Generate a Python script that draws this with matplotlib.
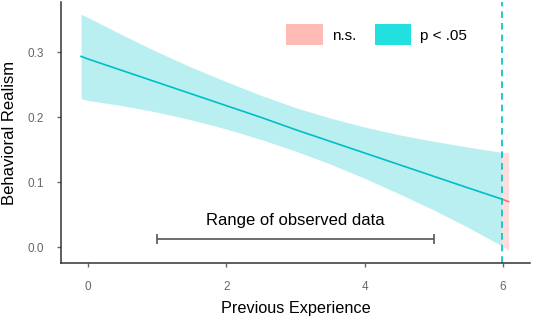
import matplotlib
matplotlib.use("Agg")
import matplotlib.pyplot as plt
from matplotlib.patches import Patch

plt.rcParams["font.family"] = ["Liberation Sans", "DejaVu Sans"]

# significant region (p < .05)
x_sig = [-0.1, 0, 0.5, 1, 1.5, 2, 2.5, 3, 3.5, 4, 4.5, 5, 5.5, 5.98]
fit_sig = [0.294, 0.290, 0.272, 0.254, 0.236, 0.218, 0.200, 0.181, 0.163,
           0.145, 0.127, 0.109, 0.091, 0.074]
upper_sig = [0.359, 0.354, 0.327, 0.301, 0.277, 0.255, 0.234, 0.215, 0.199,
             0.185, 0.173, 0.163, 0.154, 0.146]
lower_sig = [0.229, 0.226, 0.218, 0.208, 0.196, 0.182, 0.166, 0.148, 0.128,
             0.106, 0.082, 0.057, 0.030, 0.002]

# non-significant region
x_ns = [5.98, 6.08]
fit_ns = [0.074, 0.070]
upper_ns = [0.146, 0.146]
lower_ns = [0.002, -0.005]

jn_point = 5.98
obs_range = (1, 5)
obs_y = 0.013
xticks = [0, 2, 4, 6]
yticks = [0.0, 0.1, 0.2, 0.3]

cyan = "#00BFC4"
red = "#F8766D"

fig = plt.figure(figsize=(5.33, 3.18), dpi=100)
ax = fig.add_axes([0.1144, 0.173, 0.88, 0.821])

ax.fill_between(x_sig, lower_sig, upper_sig, color="#B9EFF1", lw=0)
ax.fill_between(x_ns, lower_ns, upper_ns, color="#FDDEDD", lw=0)
ax.plot(x_sig, fit_sig, color=cyan, lw=1.2)
ax.plot(x_ns, fit_ns, color=red, lw=1.2)
ax.axvline(jn_point, color=cyan, lw=1.2, ls=(0, (4, 3)))

mid = (obs_range[0] + obs_range[1]) / 2
ax.errorbar(mid, obs_y, xerr=(obs_range[1] - obs_range[0]) / 2, color="#555555",
            lw=1.2, capsize=3.5, capthick=1.2)
ax.text(mid, 0.041, "Range of observed data", ha="center", va="center",
        fontsize=12, color="black")

ax.set_xlim(-0.39, 6.39)
ax.set_ylim(-0.0246, 0.378)
ax.set_xticks(xticks)
ax.set_yticks(yticks)
ax.set_xticklabels([str(t) for t in xticks])
ax.set_yticklabels([f"{t:.1f}" for t in yticks])
ax.tick_params(colors="#666666", labelsize=8.5, length=3, width=1)
ax.tick_params(axis="x", pad=10)
ax.tick_params(axis="y", pad=9)

for s in ["top", "right"]:
    ax.spines[s].set_visible(False)
for s in ["left", "bottom"]:
    ax.spines[s].set_color("#333333")
    ax.spines[s].set_linewidth(1.1)

ax.set_xlabel("Previous Experience", fontsize=11.7, labelpad=6)
ax.set_ylabel("Behavioral Realism", fontsize=12, labelpad=8)

handles = [Patch(facecolor="#FFBBB5", edgecolor="none", label="n.s."),
           Patch(facecolor="#22DFE0", edgecolor="none", label="p < .05")]
ax.legend(handles=handles, ncol=2, frameon=False, loc="upper left",
          bbox_to_anchor=(0.48, 0.915), borderaxespad=0, borderpad=0,
          handlelength=2.4, handleheight=1.75, handletextpad=0.6,
          columnspacing=1.2, fontsize=11)

fig.savefig("out.png", dpi=100)
